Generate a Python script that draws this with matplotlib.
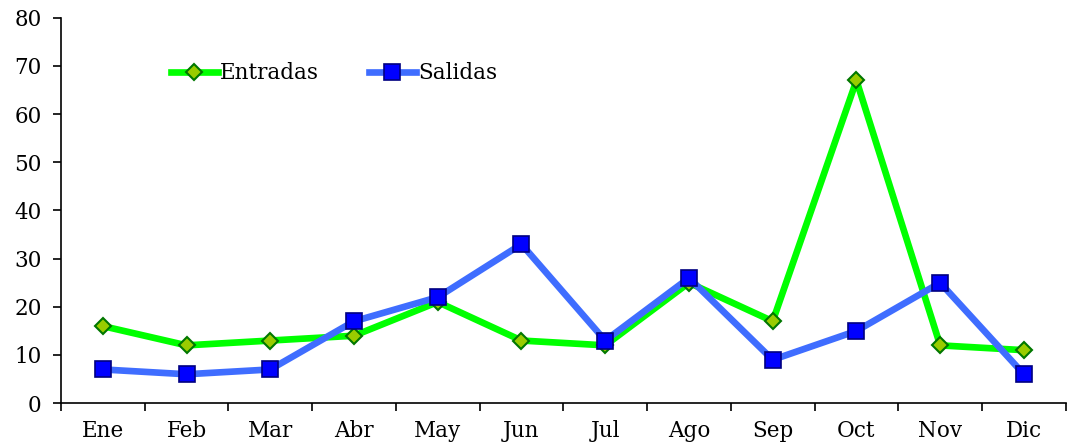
import numpy as np
import matplotlib.pyplot as plt

months = ['Ene', 'Feb', 'Mar', 'Abr', 'May', 'Jun', 'Jul', 'Ago', 'Sep', 'Oct', 'Nov', 'Dic']
entradas = [16, 12, 13, 14, 21, 13, 12, 25, 17, 67, 12, 11]
salidas = [7, 6, 7, 17, 22, 33, 13, 26, 9, 15, 25, 6]

plt.rcParams['font.family'] = 'DejaVu Serif'
fs = 15.5

fig = plt.figure(figsize=(10.69, 4.45), dpi=100)
ax = fig.add_axes([0.057, 0.094, 0.94, 0.866])

x = np.arange(len(months))
ax.plot(x, entradas, color='#00ff00', linewidth=4.8, marker='D', markersize=8,
        markerfacecolor='#99cc00', markeredgecolor='#007700', markeredgewidth=1.5,
        label='Entradas', zorder=3)
ax.plot(x, salidas, color='#3f6dff', linewidth=4.8, marker='s', markersize=11,
        markerfacecolor='#0000ff', markeredgecolor='#000080', markeredgewidth=1.2,
        label='Salidas', zorder=4)

ax.set_xlim(-0.5, len(months) - 0.5)
ax.set_ylim(0, 80)
ax.set_yticks(range(0, 81, 10))
ax.set_xticks(x)
ax.set_xticklabels(months)
ax.set_xticks(np.arange(-0.5, len(months), 1), minor=True)
ax.tick_params(axis='x', which='major', length=0, pad=12, labelsize=fs)
ax.tick_params(axis='x', which='minor', length=6, width=1.2, direction='out')
ax.tick_params(axis='y', length=6, width=1.2, direction='out', labelsize=fs, pad=8)

ax.spines['top'].set_visible(False)
ax.spines['right'].set_visible(False)
ax.spines['left'].set_linewidth(1.2)
ax.spines['bottom'].set_linewidth(1.2)

ax.legend(loc='upper left', bbox_to_anchor=(0.09, 0.935), ncol=2, frameon=False,
          fontsize=fs, handlelength=2.2, handletextpad=0.1, columnspacing=2.3)

plt.savefig('out.png', dpi=100)
plt.close()
